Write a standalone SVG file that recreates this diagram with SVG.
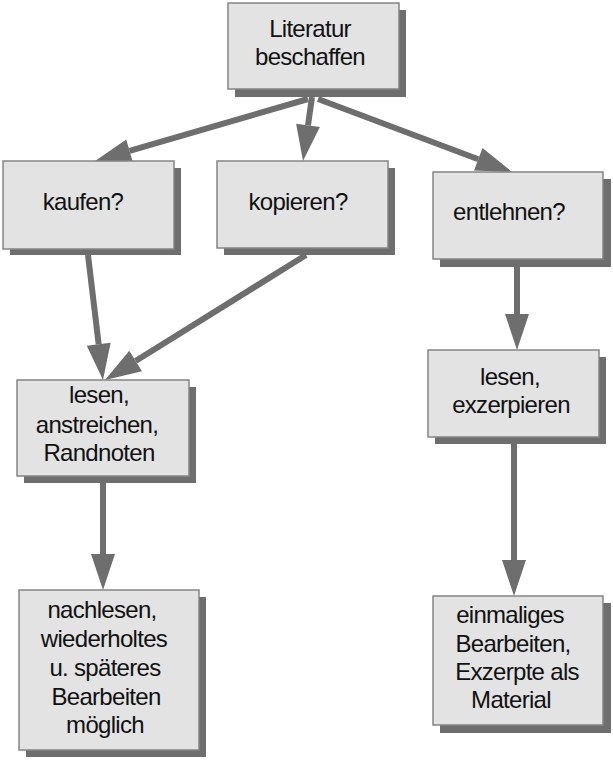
<svg xmlns="http://www.w3.org/2000/svg" width="613" height="760" viewBox="0 0 613 760">
<defs>
<style>
.sh{fill:#6e6e6e}
.bx{fill:#e3e3e3;stroke:#858585;stroke-width:1.5}
.t{font-family:"Liberation Sans",Arial,sans-serif;font-size:24px;fill:#111;text-anchor:middle;letter-spacing:-0.7px}
.c{stroke:#6e6e6e;stroke-width:6;fill:none;marker-end:url(#ah)}
</style>
<marker id="ah" markerUnits="userSpaceOnUse" markerWidth="40" markerHeight="26" viewBox="0 -13 40 26" refX="0" refY="0" orient="auto" overflow="visible">
<path d="M0,-12 L36,0 L0,12 Z" fill="#6e6e6e"/>
</marker>
</defs>
<rect width="613" height="760" fill="#fff"/>
<g id="connectors">
<line class="c" x1="308" y1="99" x2="129.6" y2="150.9"/>
<line class="c" x1="312" y1="97" x2="308" y2="125.4"/>
<line class="c" x1="318" y1="99" x2="478.3" y2="159.3"/>
<line class="c" x1="88" y1="255" x2="98.7" y2="344.3"/>
<line class="c" x1="306" y1="255" x2="135.6" y2="361"/>
<line class="c" x1="517" y1="267" x2="517" y2="314"/>
<line class="c" x1="103" y1="483" x2="103" y2="554"/>
<line class="c" x1="514" y1="444" x2="514" y2="560"/>
</g>
<g id="n1">
<rect class="sh" x="235" y="10" width="171" height="87"/>
<rect class="bx" x="228" y="3" width="171" height="86"/>
<text class="t" x="310" y="37">Literatur</text>
<text class="t" x="310" y="65">beschaffen</text>
</g>
<g id="n2">
<rect class="sh" x="10" y="168" width="171" height="87"/>
<rect class="bx" x="3" y="161" width="171" height="88"/>
<text class="t" x="83" y="210">kaufen?</text>
</g>
<g id="n3">
<rect class="sh" x="224" y="168" width="171" height="87"/>
<rect class="bx" x="217" y="161" width="171" height="87"/>
<text class="t" x="298" y="210">kopieren?</text>
</g>
<g id="n4">
<rect class="sh" x="440" y="179" width="171" height="88"/>
<rect class="bx" x="433" y="172" width="170" height="87"/>
<text class="t" x="509" y="220">entlehnen?</text>
</g>
<g id="n5">
<rect class="sh" x="24" y="387" width="172" height="96"/>
<rect class="bx" x="17" y="380" width="172" height="96"/>
<text class="t" x="99" y="403">lesen,</text>
<text class="t" x="97" y="433">anstreichen,</text>
<text class="t" x="99" y="461">Randnoten</text>
</g>
<g id="n6">
<rect class="sh" x="435" y="357" width="171" height="87"/>
<rect class="bx" x="428" y="350" width="171" height="87"/>
<text class="t" x="510" y="385">lesen,</text>
<text class="t" x="511" y="413">exzerpieren</text>
</g>
<g id="n7">
<rect class="sh" x="26" y="597" width="180" height="160"/>
<rect class="bx" x="19" y="590" width="180" height="160"/>
<text class="t" x="102" y="618">nachlesen,</text>
<text class="t" x="104" y="647">wiederholtes</text>
<text class="t" x="105" y="676">u. späteres</text>
<text class="t" x="106" y="705">Bearbeiten</text>
<text class="t" x="105" y="733">möglich</text>
</g>
<g id="n8">
<rect class="sh" x="440" y="603" width="171" height="130"/>
<rect class="bx" x="433" y="596" width="170" height="129"/>
<text class="t" x="510" y="623">einmaliges</text>
<text class="t" x="513" y="652">Bearbeiten,</text>
<text class="t" x="517" y="680">Exzerpte als</text>
<text class="t" x="511" y="708">Material</text>
</g>
</svg>
